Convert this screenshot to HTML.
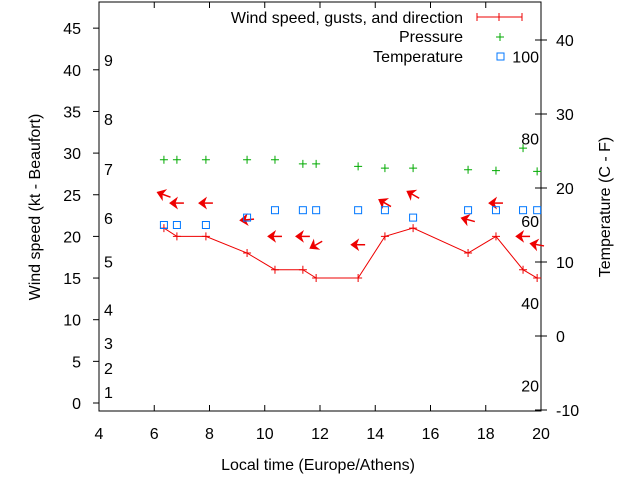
<!DOCTYPE html>
<html><head><meta charset="utf-8"><style>
html,body{margin:0;padding:0;background:#fff;}
svg{display:block;font-family:"Liberation Sans",sans-serif;}
</style></head><body>
<svg id="chart" width="640" height="480" viewBox="0 0 640 480">
<g id="axes"></g><g id="marks"></g>
</svg>
<script>
const times=[6.35,6.82,7.87,9.36,10.37,11.38,11.86,13.38,14.35,15.37,17.36,18.37,19.35,19.86];
const windSpeed=[21,20,20,18,16,16,15,15,20,21,18,20,16,15];
const gusts=[25,24,24,22,20,20,19,19,24,25,22,24,20,19];
const windDir=[-160,180,180,175,180,180,150,180,-150,-150,-165,180,180,-170];
const pressure=[29.2,29.2,29.2,29.2,29.2,28.7,28.7,28.4,28.2,28.2,28.0,27.9,30.6,27.8];
const temperature=[15,15,15,16,17,17,17,17,17,16,17,17,17,17];
const xTicks=[4,6,8,10,12,14,16,18,20];
const yTicks=[0,5,10,15,20,25,30,35,40,45];
const y2Ticks=[-10,0,10,20,30,40];
const beaufort=[[1,1.3],[2,4.2],[3,7.2],[4,11.2],[5,17.0],[6,22.2],[7,28.1],[8,34.1],[9,41.2]];
const fahr=[20,40,60,80,100];

const NS='http://www.w3.org/2000/svg';
const L=99,R=541,T=2,B=411;
const FS=16;
const X=t=>L+(t-4)*(R-L)/16;
const Y=v=>403-v*8.33;
const Y2=c=>410-(c+10)*7.4;
const axes=document.getElementById('axes'),marks=document.getElementById('marks');
function el(tag,attrs,parent,text){const e=document.createElementNS(NS,tag);for(const k in attrs)e.setAttribute(k,attrs[k]);if(text!==undefined)e.textContent=text;parent.appendChild(e);return e;}

let e=el('rect',{x:L,y:T,width:R-L,height:B-T,fill:'none',stroke:'#000','stroke-width':1},axes);


xTicks.forEach(t=>{
 el('line',{x1:X(t),x2:X(t),y1:B,y2:B-6,stroke:'#000'},axes);
 el('line',{x1:X(t),x2:X(t),y1:T,y2:T+6,stroke:'#000'},axes);
 const tx=el('text',{x:X(t),y:B+28,'text-anchor':'middle','font-size':FS},axes,String(t));
 
 
});
yTicks.forEach(v=>{
 el('line',{x1:L-6,x2:L,y1:Y(v),y2:Y(v),stroke:'#000'},axes);
 const tx=el('text',{x:81,y:Y(v)+6,'text-anchor':'end','font-size':FS},axes,String(v));
 
 
});
y2Ticks.forEach(v=>{
 el('line',{x1:R,x2:R+6,y1:Y2(v),y2:Y2(v),stroke:'#000'},axes);
 el('line',{x1:R-6,x2:R,y1:Y2(v),y2:Y2(v),stroke:'#000'},axes);
 const tx=el('text',{x:556,y:Y2(v)+6,'font-size':FS},axes,String(v));
 
 
});
beaufort.forEach(b=>{
 const tx=el('text',{x:104,y:Y(b[1])+6,'font-size':FS},axes,String(b[0]));
 
 
});
fahr.forEach(f=>{
 const c=(f-32)*5/9;
 const tx=el('text',{x:539,y:Y2(c)+6,'text-anchor':'end','font-size':FS},axes,String(f));
 
 
});
e=el('text',{x:318,y:470,'text-anchor':'middle','font-size':FS},axes,'Local time (Europe/Athens)');


e=el('text',{x:40,y:207,'text-anchor':'middle','font-size':FS,transform:'rotate(-90 40 207)'},axes,'Wind speed (kt - Beaufort)');


e=el('text',{x:610,y:207,'text-anchor':'middle','font-size':FS,transform:'rotate(-90 610 207)'},axes,'Temperature (C - F)');



// legend
const lg=el('g',{},axes);


el('text',{x:463,y:23,'text-anchor':'end','font-size':FS},lg,'Wind speed, gusts, and direction');
el('line',{x1:477,x2:522,y1:17,y2:17,stroke:'#e00'},lg);
[477,499,522].forEach(x=>el('line',{x1:x,x2:x,y1:13,y2:21,stroke:'#e00'},lg));
el('text',{x:463,y:42,'text-anchor':'end','font-size':FS},lg,'Pressure');
el('path',{d:'M496 37h8M500 33v8',stroke:'#0a0'},lg);
el('text',{x:463,y:62,'text-anchor':'end','font-size':FS},lg,'Temperature');
el('rect',{x:497,y:53,width:7,height:7,fill:'none',stroke:'#07f'},lg);

// wind line
let d='';times.forEach((t,i)=>{d+=(i?'L':'M')+X(t)+' '+Y(windSpeed[i]);});
e=el('path',{d:d,fill:'none',stroke:'#e00'},marks);


times.forEach((t,i)=>{
 const x=X(t),y=Y(windSpeed[i]);
 const p=el('path',{d:`M${x-4} ${y}h8M${x} ${y-4}v8`,stroke:'#e00'},marks);
 
 
 // gust arrow: local +x is the pointing direction
 const g=el('g',{transform:`translate(${x},${Y(gusts[i])}) rotate(${windDir[i]})`},marks);
 
 
 el('line',{x1:-7,y1:0,x2:4,y2:0,stroke:'#e00','stroke-width':1.5},g);
 el('path',{d:'M7 0L0 -5L2 0L0 5Z',fill:'#e00',stroke:'#e00','stroke-width':1},g);
 const pp=el('path',{d:`M${x-4} ${Y(pressure[i])}h8M${x} ${Y(pressure[i])-4}v8`,stroke:'#0a0'},marks);
 
 
 const sq=el('rect',{x:x-3.5,y:Y2(temperature[i])-3.5,width:7,height:7,fill:'none',stroke:'#07f'},marks);
 
 
});
</script>
</body></html>
